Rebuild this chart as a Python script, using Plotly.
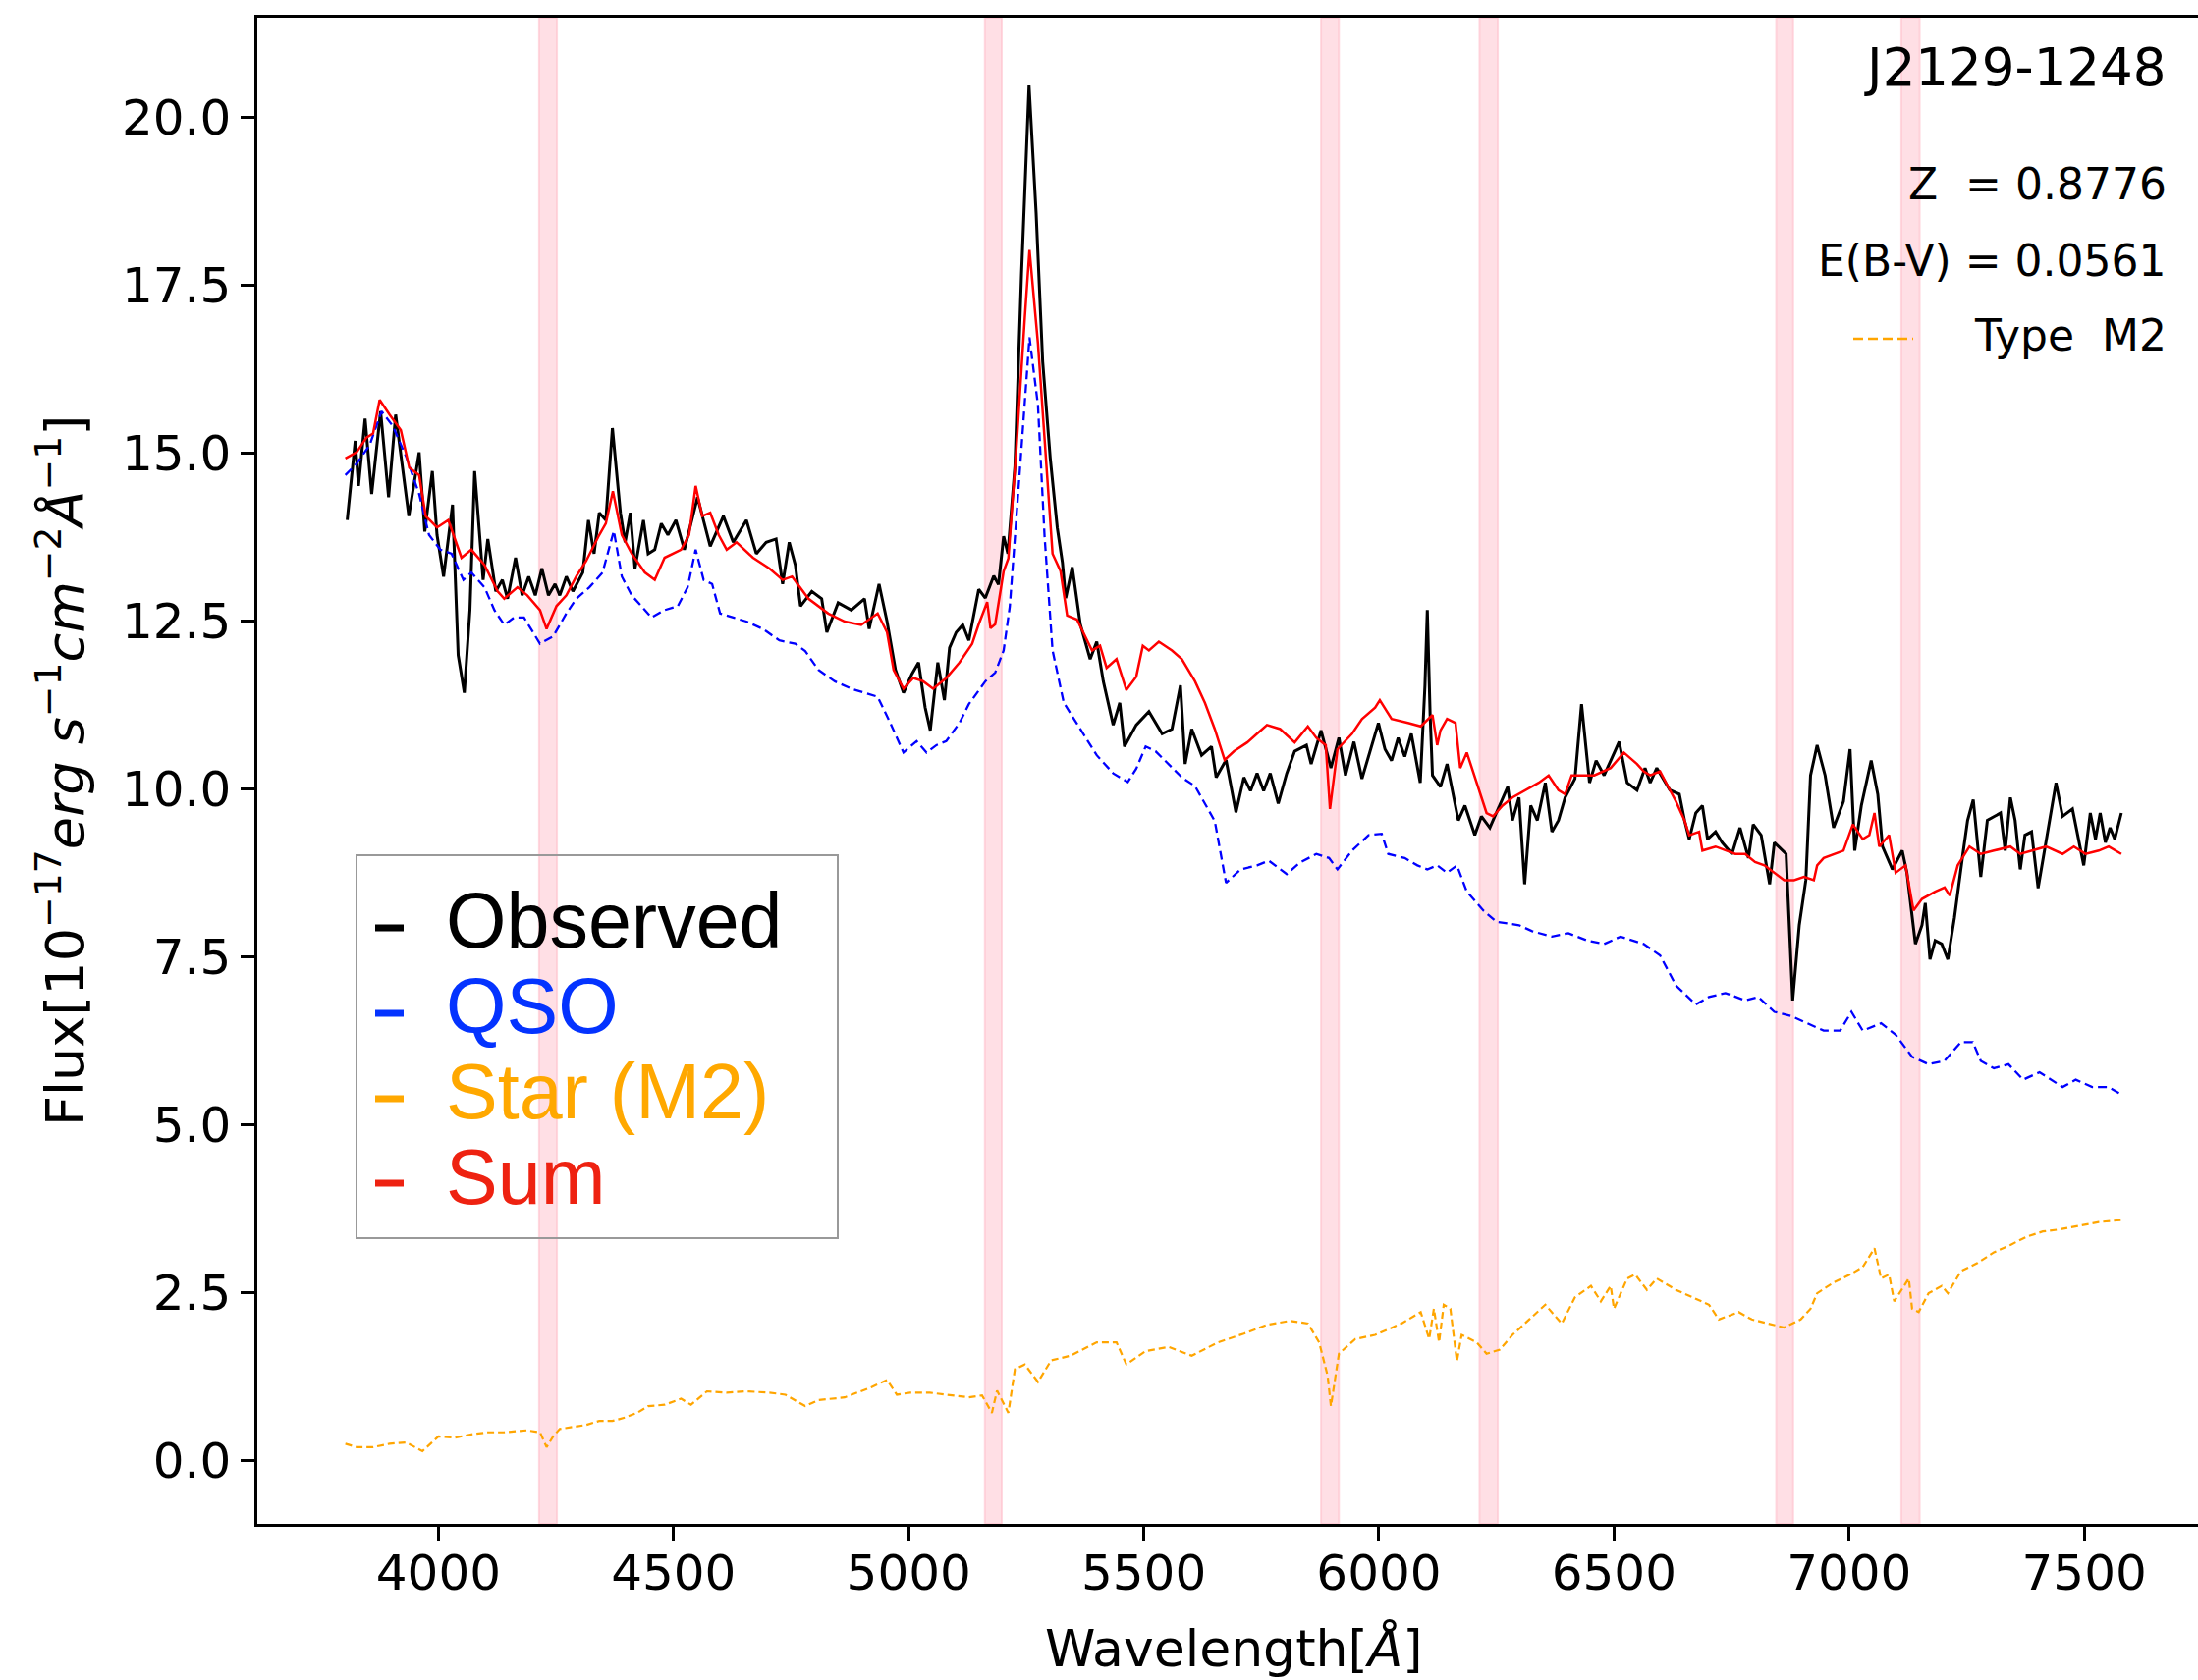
import plotly.graph_objects as go

# ---------------- data ----------------
obs_wave = [3806, 3823, 3830, 3844, 3858, 3877, 3894, 3909, 3937, 3959, 3971, 3987, 3997, 4011, 4030, 4042, 4055, 4067, 4077, 4095,
            4105, 4122, 4136, 4147, 4164, 4178, 4192, 4206, 4220, 4234, 4248, 4258, 4272, 4286, 4307, 4319, 4331, 4342, 4356, 4370,
            4387, 4397, 4408, 4418, 4436, 4446, 4460, 4474, 4488, 4505, 4523, 4551, 4578, 4606, 4627, 4655, 4676, 4697, 4718, 4732,
            4746, 4759, 4770, 4794, 4815, 4826, 4850, 4878, 4906, 4916, 4937, 4954, 4972, 4989, 5007, 5021, 5035, 5046, 5062, 5076,
            5087, 5101, 5115, 5128, 5149, 5163, 5181, 5191, 5202, 5211, 5226, 5240, 5256, 5271, 5285, 5301, 5316, 5327, 5334, 5348,
            5365, 5386, 5400, 5414, 5435, 5449, 5459, 5484, 5511, 5539, 5560, 5578, 5588, 5602, 5623, 5644, 5654, 5675, 5696, 5713,
            5727, 5741, 5755, 5769, 5786, 5804, 5821, 5846, 5856, 5877, 5898, 5915, 5929, 5947, 5964, 5981, 5999, 6013, 6027, 6041,
            6055, 6069, 6088, 6098, 6103, 6109, 6114, 6131, 6145, 6169, 6183, 6204, 6218, 6236, 6257, 6274, 6284, 6298, 6310, 6323,
            6337, 6354, 6368, 6382, 6396, 6417, 6431, 6448, 6462, 6479, 6511, 6528, 6549, 6566, 6577, 6591, 6619, 6639, 6650, 6660,
            6674, 6688, 6699, 6716, 6730, 6751, 6768, 6786, 6796, 6813, 6831, 6841, 6866, 6880, 6894, 6908, 6918, 6932, 6949, 6967,
            6988, 7002, 7012, 7026, 7047, 7061, 7071, 7092, 7113, 7123, 7141, 7155, 7162, 7172, 7183, 7197, 7210, 7224, 7242, 7252,
            7264, 7280, 7294, 7322, 7332, 7343, 7353, 7364, 7374, 7388, 7402, 7416, 7426, 7440, 7454, 7475, 7499, 7513, 7524, 7534,
            7545, 7555, 7565, 7579]
obs_flux = [14.0, 15.18, 14.51, 15.51, 14.39, 15.62, 14.34, 15.57, 14.06, 15.01, 13.83, 14.73, 13.78, 13.16, 14.23, 11.99, 11.43, 12.66, 14.73, 13.11,
            13.72, 12.94, 13.11, 12.83, 13.44, 12.88, 13.16, 12.88, 13.28, 12.88, 13.05, 12.88, 13.16, 12.94, 13.22, 14.0, 13.5, 14.11, 14.0, 15.37,
            14.11, 13.67, 14.11, 13.28, 14.0, 13.5, 13.56, 13.95, 13.78, 14.0, 13.56, 14.34, 13.61, 14.06, 13.67, 14.0, 13.5, 13.67, 13.72, 13.05,
            13.67, 13.33, 12.72, 12.94, 12.83, 12.33, 12.77, 12.66, 12.83, 12.38, 13.05, 12.49, 11.77, 11.43, 11.71, 11.88, 11.21, 10.87, 11.88, 11.32,
            12.1, 12.33, 12.44, 12.21, 12.97, 12.84, 13.17, 13.04, 13.76, 13.5, 14.8, 17.67, 20.47, 18.58, 16.36, 14.93, 13.89, 13.37, 12.84, 13.3,
            12.45, 11.93, 12.19, 11.6, 10.95, 11.28, 10.63, 10.95, 11.15, 10.82, 10.89, 11.54, 10.37, 10.89, 10.5, 10.63, 10.17, 10.43, 9.65, 10.17,
            9.97, 10.23, 9.97, 10.23, 9.78, 10.23, 10.56, 10.65, 10.37, 10.87, 10.31, 10.76, 10.2, 10.7, 10.15, 10.54, 10.98, 10.59, 10.42, 10.76,
            10.48, 10.82, 10.09, 11.54, 12.66, 11.1, 10.2, 10.03, 10.37, 9.53, 9.75, 9.31, 9.59, 9.42, 9.75, 10.03, 9.53, 9.87, 8.58, 9.75,
            9.53, 10.09, 9.36, 9.53, 9.87, 10.15, 11.26, 10.09, 10.42, 10.2, 10.7, 10.09, 9.98, 10.31, 10.09, 10.31, 9.98, 9.92, 9.53, 9.25,
            9.64, 9.75, 9.25, 9.36, 9.2, 9.03, 9.42, 8.97, 9.47, 9.31, 8.58, 9.2, 9.03, 6.85, 7.97, 8.64, 10.2, 10.65, 10.2, 9.42,
            9.81, 10.59, 9.08, 9.75, 10.42, 9.92, 9.14, 8.8, 9.08, 8.75, 7.69, 7.97, 8.3, 7.46, 7.74, 7.69, 7.46, 8.08, 9.03, 9.53,
            9.84, 8.69, 9.53, 9.64, 9.08, 9.87, 9.53, 8.8, 9.31, 9.36, 8.52, 9.08, 9.53, 10.09, 9.59, 9.7, 8.86, 9.64, 9.25, 9.64,
            9.2, 9.42, 9.25, 9.64]

qso_wave = [3802, 3826, 3854, 3879, 3903, 3931, 3959, 3980, 4004, 4028, 4053, 4070, 4098, 4119, 4140, 4161, 4182, 4216, 4244, 4272,
            4293, 4321, 4349, 4373, 4390, 4411, 4453, 4481, 4509, 4530, 4547, 4564, 4582, 4599, 4627, 4655, 4690, 4725, 4759, 4780,
            4808, 4843, 4878, 4906, 4934, 4961, 4989, 5017, 5038, 5059, 5080, 5108, 5128, 5163, 5184, 5202, 5215, 5233, 5247, 5257,
            5275, 5289, 5306, 5330, 5365, 5400, 5435, 5466, 5484, 5504, 5525, 5553, 5581, 5609, 5651, 5675, 5706, 5741, 5766, 5804,
            5832, 5867, 5894, 5912, 5943, 5978, 6006, 6020, 6055, 6082, 6103, 6124, 6145, 6166, 6187, 6222, 6250, 6298, 6326, 6368,
            6403, 6444, 6479, 6514, 6542, 6563, 6598, 6632, 6674, 6702, 6737, 6779, 6807, 6841, 6876, 6911, 6946, 6981, 7005, 7029,
            7068, 7099, 7134, 7169, 7203, 7238, 7263, 7280, 7308, 7339, 7370, 7405, 7454, 7482, 7517, 7552, 7579]
qso_flux = [14.67, 14.84, 15.12, 15.62, 15.4, 14.95, 14.39, 13.78, 13.56, 13.5, 13.11, 13.22, 13.0, 12.66, 12.44, 12.55, 12.55, 12.16, 12.27, 12.61,
            12.83, 13.0, 13.22, 13.84, 13.16, 12.88, 12.55, 12.66, 12.72, 13.0, 13.56, 13.11, 13.05, 12.61, 12.55, 12.49, 12.38, 12.21, 12.16, 12.05,
            11.77, 11.6, 11.49, 11.43, 11.37, 10.98, 10.54, 10.71, 10.54, 10.65, 10.71, 10.98, 11.26, 11.6, 11.73, 12.06, 12.71, 14.41, 15.84, 16.72,
            15.71, 13.76, 12.06, 11.28, 10.89, 10.5, 10.23, 10.1, 10.3, 10.63, 10.56, 10.37, 10.17, 10.04, 9.52, 8.6, 8.8, 8.86, 8.93, 8.73,
            8.9, 9.03, 8.97, 8.8, 9.08, 9.31, 9.33, 9.03, 8.97, 8.86, 8.8, 8.86, 8.75, 8.86, 8.47, 8.19, 8.02, 7.97, 7.88, 7.8,
            7.85, 7.74, 7.69, 7.8, 7.74, 7.69, 7.52, 7.07, 6.79, 6.9, 6.96, 6.85, 6.9, 6.68, 6.62, 6.51, 6.4, 6.4, 6.68, 6.4,
            6.51, 6.34, 6.01, 5.9, 5.95, 6.23, 6.23, 5.95, 5.84, 5.9, 5.67, 5.78, 5.56, 5.67, 5.56, 5.56, 5.45]

star_wave = [3802, 3826, 3861, 3896, 3931, 3966, 4000, 4035, 4070, 4105, 4140, 4188, 4216, 4230, 4244, 4258, 4286, 4314, 4342, 4370,
             4397, 4425, 4446, 4481, 4516, 4537, 4571, 4613, 4655, 4704, 4738, 4780, 4808, 4864, 4920, 4954, 4975, 5003, 5045, 5087,
             5128, 5156, 5177, 5188, 5212, 5226, 5247, 5275, 5303, 5344, 5400, 5442, 5463, 5504, 5553, 5602, 5658, 5713, 5762, 5811,
             5849, 5873, 5891, 5898, 5907, 5915, 5950, 5992, 6048, 6089, 6107, 6117, 6128, 6138, 6152, 6166, 6176, 6208, 6229, 6257,
             6284, 6319, 6354, 6375, 6389, 6417, 6451, 6472, 6493, 6500, 6528, 6545, 6570, 6591, 6632, 6667, 6702, 6723, 6765, 6793,
             6827, 6862, 6897, 6918, 6932, 6967, 7002, 7029, 7054, 7068, 7085, 7096, 7127, 7134, 7148, 7169, 7197, 7210, 7238, 7273,
             7308, 7343, 7377, 7412, 7447, 7489, 7531, 7579]
star_flux = [0.25, 0.2, 0.2, 0.25, 0.27, 0.14, 0.36, 0.34, 0.39, 0.42, 0.42, 0.45, 0.42, 0.2, 0.36, 0.47, 0.5, 0.53, 0.59, 0.59,
             0.64, 0.72, 0.81, 0.83, 0.92, 0.83, 1.03, 1.01, 1.03, 1.01, 0.98, 0.81, 0.9, 0.94, 1.09, 1.2, 0.98, 1.01, 1.01, 0.98,
             0.94, 0.97, 0.71, 1.04, 0.71, 1.36, 1.43, 1.17, 1.49, 1.56, 1.76, 1.76, 1.43, 1.63, 1.69, 1.56, 1.76, 1.89, 2.02, 2.08,
             2.04, 1.76, 1.26, 0.81, 1.26, 1.59, 1.81, 1.87, 2.04, 2.21, 1.81, 2.26, 1.76, 2.32, 2.26, 1.48, 1.87, 1.76, 1.59, 1.65,
             1.87, 2.1, 2.32, 2.15, 2.04, 2.43, 2.6, 2.37, 2.6, 2.26, 2.71, 2.77, 2.54, 2.71, 2.54, 2.43, 2.32, 2.1, 2.21, 2.1,
             2.04, 1.98, 2.1, 2.26, 2.49, 2.65, 2.77, 2.88, 3.16, 2.71, 2.77, 2.37, 2.71, 2.26, 2.21, 2.49, 2.6, 2.49, 2.82, 2.94,
             3.1, 3.21, 3.33, 3.41, 3.44, 3.49, 3.55, 3.58]

sum_wave = [3802, 3826, 3847, 3861, 3875, 3896, 3920, 3938, 3959, 3973, 3997, 4021, 4049, 4070, 4098, 4126, 4140, 4168, 4189, 4216,
            4230, 4251, 4272, 4293, 4314, 4342, 4356, 4371, 4390, 4411, 4439, 4460, 4481, 4516, 4533, 4547, 4561, 4578, 4596, 4613,
            4634, 4669, 4704, 4732, 4752, 4787, 4829, 4864, 4899, 4934, 4954, 4968, 4989, 5010, 5031, 5052, 5080, 5108, 5135, 5149,
            5167, 5174, 5184, 5202, 5212, 5229, 5247, 5257, 5275, 5290, 5306, 5323, 5337, 5358, 5372, 5390, 5407, 5421, 5442, 5463,
            5484, 5498, 5511, 5532, 5560, 5581, 5609, 5630, 5651, 5672, 5692, 5720, 5741, 5762, 5790, 5821, 5849, 5867, 5887, 5896,
            5912, 5943, 5964, 5992, 6002, 6027, 6062, 6089, 6114, 6124, 6131, 6145, 6163, 6173, 6187, 6208, 6229, 6243, 6263, 6284,
            6312, 6340, 6361, 6382, 6396, 6410, 6438, 6458, 6493, 6521, 6549, 6563, 6577, 6598, 6619, 6632, 6650, 6660, 6681, 6688,
            6716, 6737, 6758, 6779, 6800, 6820, 6841, 6862, 6883, 6904, 6925, 6932, 6946, 6967, 6988, 7008, 7029, 7043, 7054, 7064,
            7085, 7099, 7120, 7137, 7155, 7183, 7203, 7214, 7231, 7256, 7280, 7308, 7343, 7364, 7391, 7419, 7454, 7478, 7503, 7531,
            7552, 7579]
sum_flux = [14.92, 15.01, 15.23, 15.29, 15.79, 15.57, 15.34, 14.78, 14.67, 14.06, 13.89, 14.0, 13.44, 13.56, 13.33, 12.94, 12.83, 13.0, 12.88, 12.66,
            12.38, 12.72, 12.88, 13.16, 13.39, 13.78, 13.95, 14.43, 13.78, 13.5, 13.22, 13.11, 13.44, 13.56, 13.78, 14.51, 14.06, 14.11, 13.78, 13.56,
            13.67, 13.44, 13.28, 13.11, 13.16, 12.83, 12.61, 12.49, 12.44, 12.61, 12.33, 11.77, 11.49, 11.65, 11.6, 11.49, 11.65, 11.88, 12.16, 12.45,
            12.78, 12.39, 12.45, 13.24, 13.43, 15.06, 17.02, 18.02, 16.63, 15.06, 13.5, 13.24, 12.58, 12.52, 12.32, 12.06, 12.13, 11.8, 11.93, 11.47,
            11.67, 12.13, 12.06, 12.19, 12.06, 11.93, 11.6, 11.28, 10.89, 10.43, 10.56, 10.69, 10.82, 10.95, 10.89, 10.69, 10.93, 10.76, 10.65, 9.7,
            10.59, 10.82, 11.04, 11.21, 11.32, 11.04, 10.98, 10.93, 11.1, 10.65, 10.87, 11.04, 10.98, 10.31, 10.54, 10.09, 9.64, 9.59, 9.75, 9.87,
            9.98, 10.09, 10.2, 9.98, 9.92, 10.2, 10.2, 10.2, 10.31, 10.54, 10.37, 10.26, 10.2, 10.26, 9.98, 9.81, 9.53, 9.31, 9.36, 9.08,
            9.14, 9.08, 9.03, 9.03, 8.91, 8.86, 8.75, 8.64, 8.64, 8.69, 8.64, 8.86, 8.97, 9.03, 9.08, 9.47, 9.25, 9.31, 9.64, 9.14,
            9.31, 8.75, 8.86, 8.19, 8.36, 8.47, 8.53, 8.41, 8.86, 9.14, 9.03, 9.08, 9.14, 9.03, 9.08, 9.14, 9.03, 9.14, 9.03, 9.08,
            9.14, 9.03]

band_lo = [4214, 5162, 5877, 6214, 6845, 7111]
band_hi = [4252, 5198, 5915, 6253, 6881, 7150]

x_ticks = [4000, 4500, 5000, 5500, 6000, 6500, 7000, 7500]
y_ticks = [0.0, 2.5, 5.0, 7.5, 10.0, 12.5, 15.0, 17.5, 20.0]

legend_names = ["Observed", "QSO", "Star (M2)", "Sum"]
legend_colors = ["#000000", "#0433ff", "#ffa800", "#ee2211"]
info_lines = ["Z\u00a0 = 0.8776", "E(B-V) = 0.0561", "Type\u00a0 M2"]
object_name = "J2129-1248"

# ---------------- layout geometry (pixels) ----------------
W, H = 2238, 1711
L, R, T, B = 262, 0, 18, 159
PW, PH = W - L - R, H - T - B


def xp(px):
    return (px - L) / PW


def yp(py):
    return (H - B - py) / PH


FONT = "DejaVu Sans"
LFONT = "Liberation Sans"

fig = go.Figure()
fig.add_trace(go.Scatter(x=obs_wave, y=obs_flux, mode="lines", name="Observed",
                         line=dict(color="black", width=3), showlegend=False))
fig.add_trace(go.Scatter(x=qso_wave, y=qso_flux, mode="lines", name="QSO",
                         line=dict(color="blue", width=2.3, dash="9px,5px"), showlegend=False))
fig.add_trace(go.Scatter(x=star_wave, y=star_flux, mode="lines", name="Star (M2)",
                         line=dict(color="orange", width=2.2, dash="7px,4px"), showlegend=False))
fig.add_trace(go.Scatter(x=sum_wave, y=sum_flux, mode="lines", name="Sum",
                         line=dict(color="red", width=2.5), showlegend=False))

shapes = []
for lo, hi in zip(band_lo, band_hi):
    shapes.append(dict(type="rect", xref="x", yref="paper", x0=lo, x1=hi, y0=0, y1=1,
                       fillcolor="rgba(255,192,203,0.5)", line=dict(color="rgba(255,192,203,0.6)", width=2),
                       layer="below"))

# legend frame
shapes.append(dict(type="rect", xref="paper", yref="paper", x0=xp(363), x1=xp(853), y0=yp(1261), y1=yp(871),
                   line=dict(color="#999999", width=2), fillcolor="rgba(0,0,0,0)"))
annotations = []
text_y = [937, 1024, 1111, 1198]
handle_y = [945, 1032, 1119, 1205]
for name, col, ty, hy in zip(legend_names, legend_colors, text_y, handle_y):
    shapes.append(dict(type="line", xref="paper", yref="paper", x0=xp(382), x1=xp(411), y0=yp(hy), y1=yp(hy),
                       line=dict(color=col, width=7)))
    annotations.append(dict(text=name, xref="paper", yref="paper", x=xp(452), y=yp(ty), xanchor="left",
                            yanchor="middle", showarrow=False, font=dict(family=LFONT, size=79, color=col)))

# top-right info
annotations.append(dict(text=object_name, xref="paper", yref="paper", x=xp(2208), y=yp(69), xanchor="right",
                        yanchor="middle", showarrow=False, font=dict(family=FONT, size=53, color="black")))
for txt, cy in zip(info_lines, [188, 265, 342]):
    annotations.append(dict(text=txt, xref="paper", yref="paper", x=xp(2208), y=yp(cy), xanchor="right",
                            yanchor="middle", showarrow=False, font=dict(family=FONT, size=44, color="black")))
shapes.append(dict(type="line", xref="paper", yref="paper", x0=xp(1887), x1=xp(1948), y0=yp(345), y1=yp(345),
                   line=dict(color="orange", width=2.5, dash="10px,5px")))

# axis titles
annotations.append(dict(text="Wavelength[<i>Å</i>]", xref="paper", yref="paper", x=xp(1256), y=yp(1678),
                        xanchor="center", yanchor="middle", showarrow=False,
                        font=dict(family=FONT, size=52, color="black")))
annotations.append(dict(text="Flux[10<sup>−17</sup><i>erg s</i><sup>−1</sup><i>cm</i><sup>−2</sup><i>Å</i><sup>−1</sup>]",
                        xref="paper", yref="paper", x=xp(62), y=yp(785), xanchor="center", yanchor="middle",
                        textangle=-90, showarrow=False, font=dict(family=FONT, size=54, color="black")))

fig.update_layout(
    width=W, height=H, margin=dict(l=L, r=R, t=T, b=B, autoexpand=False),
    paper_bgcolor="white", plot_bgcolor="white",
    shapes=shapes, annotations=annotations, showlegend=False,
    font=dict(family=FONT, size=50, color="black"),
)
fig.update_xaxes(range=[3614.8, 7742], tickvals=x_ticks, ticktext=[str(v) for v in x_ticks],
                 showline=True, linecolor="black", linewidth=2.5, mirror=True,
                 ticks="outside", ticklen=14, tickwidth=2.5, tickcolor="black", ticklabelstandoff=-10,
                 showgrid=False, zeroline=False, tickfont=dict(family=FONT, size=50, color="black"))
fig.update_yaxes(range=[-0.943, 21.48], tickvals=y_ticks, ticktext=[f"{v:.1f}" for v in y_ticks],
                 showline=True, linecolor="black", linewidth=2.5, mirror=False,
                 ticks="outside", ticklen=14, tickwidth=2.5, tickcolor="black",
                 showgrid=False, zeroline=False, tickfont=dict(family=FONT, size=50, color="black"))

fig.write_html("out.html")
